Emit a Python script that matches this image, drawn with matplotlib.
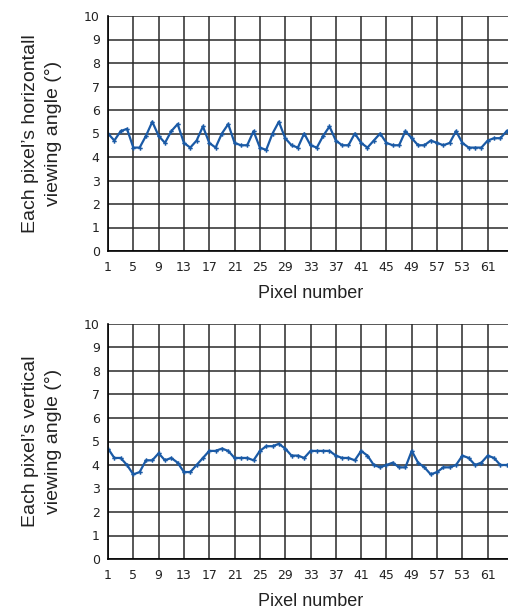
import matplotlib
matplotlib.use('Agg')
import matplotlib.pyplot as plt

# Data
pixels = list(range(1, 65))
horizontal_angle = [5.0, 4.7, 5.1, 5.2, 4.4, 4.4, 4.9, 5.5, 4.9, 4.6,
                    5.1, 5.4, 4.6, 4.4, 4.7, 5.3, 4.6, 4.4, 5.0, 5.4,
                    4.6, 4.5, 4.5, 5.1, 4.4, 4.3, 5.0, 5.5, 4.8, 4.5,
                    4.4, 5.0, 4.5, 4.4, 4.9, 5.3, 4.7, 4.5, 4.5, 5.0,
                    4.6, 4.4, 4.7, 5.0, 4.6, 4.5, 4.5, 5.1, 4.8, 4.5,
                    4.5, 4.7, 4.6, 4.5, 4.6, 5.1, 4.6, 4.4, 4.4, 4.4,
                    4.7, 4.8, 4.8, 5.1]
vertical_angle = [4.7, 4.3, 4.3, 4.0, 3.6, 3.7, 4.2, 4.2, 4.5, 4.2,
                  4.3, 4.1, 3.7, 3.7, 4.0, 4.3, 4.6, 4.6, 4.7, 4.6,
                  4.3, 4.3, 4.3, 4.2, 4.6, 4.8, 4.8, 4.9, 4.7, 4.4,
                  4.4, 4.3, 4.6, 4.6, 4.6, 4.6, 4.4, 4.3, 4.3, 4.2,
                  4.6, 4.4, 4.0, 3.9, 4.0, 4.1, 3.9, 3.9, 4.6, 4.1,
                  3.9, 3.6, 3.7, 3.9, 3.9, 4.0, 4.4, 4.3, 4.0, 4.1,
                  4.4, 4.3, 4.0, 4.0]
tick_positions = [1, 5, 9, 13, 17, 21, 25, 29, 33, 37, 41, 45, 49, 53, 57, 61]
tick_labels = ['1', '5', '9', '13', '17', '21', '25', '29', '33', '37',
               '41', '45', '49', '57', '53', '61']
y_labels = ["Each pixel\u2019s horizontall\nviewing angle (\u00b0)",
            "Each pixel\u2019s vertical\nviewing angle (\u00b0)"]

fig = plt.figure(figsize=(5.08, 6.12), dpi=100)
W, H = 508, 612
left_px, right_px = 108, 513

panels = [(16, 251, horizontal_angle, y_labels[0]),
          (324, 559, vertical_angle, y_labels[1])]

for top_px, bottom_px, values, ylabel in panels:
    ax = fig.add_axes([left_px / W, 1 - bottom_px / H,
                       (right_px - left_px) / W, (bottom_px - top_px) / H])
    ax.plot(pixels, values, color='#1a5aa6', linewidth=1.6,
            marker='P', markersize=3.2, markeredgewidth=0)
    ax.set_xlim(1, 65)
    ax.set_ylim(0, 10)
    ax.set_yticks(range(0, 11))
    ax.set_xticks(tick_positions)
    ax.set_xticklabels(tick_labels)
    ax.grid(True, color='#2a2a2a', linewidth=1.1)
    ax.set_axisbelow(True)
    for side in ['top', 'right']:
        ax.spines[side].set_visible(False)
    for side in ['left', 'bottom']:
        ax.spines[side].set_color('black')
        ax.spines[side].set_linewidth(1.2)
    ax.tick_params(axis='both', length=0, labelsize=9, colors='#222222')
    ax.tick_params(axis='x', pad=7)
    ax.tick_params(axis='y', pad=6)
    ax.set_xlabel('Pixel number', fontsize=13, family='Liberation Sans',
                  color='#222222', labelpad=8)
    ax.set_ylabel(ylabel, fontsize=14, family='Liberation Sans',
                  color='#222222', labelpad=16, linespacing=1.45)

fig.savefig('out.png', dpi=100)
